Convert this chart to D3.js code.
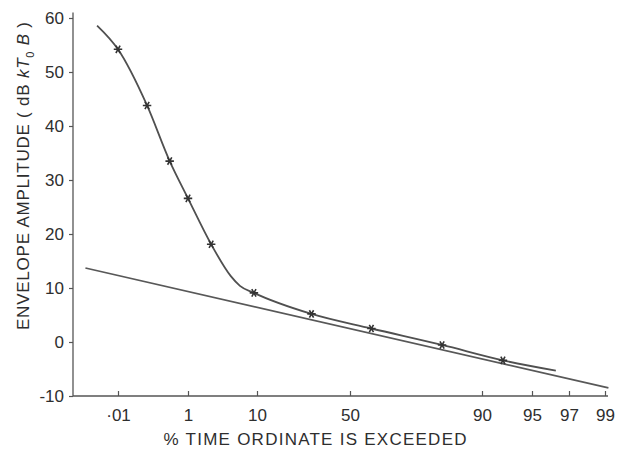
<!DOCTYPE html>
<html>
<head>
<meta charset="utf-8">
<script src="https://cdn.jsdelivr.net/npm/d3@7"></script>
<style>
  body { margin: 0; background: #fff; }
  text { font-family: "Liberation Sans", Arial, sans-serif; fill: #2e2e2e; }
</style>
</head>
<body>
<script>
const width = 619, height = 450

// % time ordinate is exceeded (x) and envelope amplitude in dB (y)
const markerPct = [0.01, 0.1, 0.4, 1, 2.6, 9.3, 32, 60, 83, 92.5]
const markerDb  = [54.2, 43.8, 33.5, 26.6, 18.1, 9.1, 5.2, 2.5, -0.55, -3.4]

// smooth curve drawn through the measurements
const curvePct = [0.0012, 0.01, 0.1, 0.4, 1, 2.6, 5, 6.5, 9.3, 32, 60, 83, 92.5, 96.4]
const curveDb  = [58.6, 54.2, 43.8, 33.5, 26.6, 18.1, 12.2, 10.4, 9.1, 5.2, 2.5, -0.55, -3.4, -5.3]

// straight reference line
const refPct = [0.0003, 99.1]
const refDb  = [13.7, -8.5]

const xTicks = [0.01, 1, 10, 50, 90, 95, 97, 99]
const yTicks = [-10, 0, 10, 20, 30, 40, 50, 60]

// probability paper: tick positions along the printed axis
const xTickPos = [118, 188, 257, 350, 482, 532, 569, 605]

const paper = function(p){ return Math.log10(-Math.log(p / 100)) }

const xPaper = d3.scaleLinear()
    .domain(xTicks.map(paper))
    .range(xTickPos)
const x = function(p){ return xPaper(paper(p)) }

const y = d3.scaleLinear()
    .domain([-10, 60])
    .range([396, 18])

const svg = d3.select("body")
    .append("svg")
      .attr("width", width)
      .attr("height", height)

// axes
const yAxis = svg.append("g")
    .attr("transform", "translate(73,0)")
    .call(d3.axisLeft(y)
        .tickValues(yTicks)
        .tickSize(4)
        .tickPadding(5)
        .tickFormat(function(d){ return String(d) }))
yAxis.select(".domain").remove()
yAxis.selectAll("line").attr("stroke", "#555").attr("stroke-width", 1.2)
yAxis.selectAll("text").style("font-size", "17px").attr("fill", "#2e2e2e")

svg.append("line")
    .attr("x1", 73).attr("x2", 73)
    .attr("y1", y(61)).attr("y2", y(-10))
    .attr("stroke", "#555").attr("stroke-width", 1.3)

const xAxis = svg.append("g")
    .attr("transform", "translate(0," + y(-10) + ")")
    .call(d3.axisBottom(xPaper)
        .tickValues(xTicks.map(paper))
        .tickSize(-5)
        .tickPadding(13)
        .tickFormat(function(d, i){ return xTicks[i] === 0.01 ? "·01" : xTicks[i] }))
xAxis.select(".domain").remove()
xAxis.selectAll("line").attr("stroke", "#555").attr("stroke-width", 1.2)
xAxis.selectAll("text").style("font-size", "17px").attr("fill", "#2e2e2e")

svg.append("line")
    .attr("x1", 73).attr("x2", 608)
    .attr("y1", y(-10)).attr("y2", y(-10))
    .attr("stroke", "#555").attr("stroke-width", 1.3)

// axis titles
svg.append("text")
    .attr("x", 315)
    .attr("y", 445)
    .attr("text-anchor", "middle")
    .attr("textLength", 303)
    .attr("lengthAdjust", "spacing")
    .style("font-size", "17px")
    .text("% TIME ORDINATE IS EXCEEDED")

const yTitle = svg.append("text")
    .attr("transform", "translate(29,176) rotate(-90)")
    .attr("text-anchor", "middle")
    .attr("textLength", 308)
    .attr("lengthAdjust", "spacing")
    .style("font-size", "17px")
yTitle.append("tspan").text("ENVELOPE AMPLITUDE ( dB ")
yTitle.append("tspan").style("font-style", "italic").text("kT")
yTitle.append("tspan").attr("dy", 5).style("font-size", "11px").text("0")
yTitle.append("tspan").attr("dy", -5).style("font-style", "italic").text(" B")
yTitle.append("tspan").text(" )")

// lines
const line = d3.line()
    .x(function(d){ return x(d[0]) })
    .y(function(d){ return y(d[1]) })

svg.append("path")
    .datum(d3.zip(refPct, refDb))
    .attr("d", line)
    .attr("fill", "none")
    .attr("stroke", "#585858")
    .attr("stroke-width", 1.7)

svg.append("path")
    .datum(d3.zip(curvePct, curveDb))
    .attr("d", line.curve(d3.curveMonotoneX))
    .attr("fill", "none")
    .attr("stroke", "#505050")
    .attr("stroke-width", 1.8)

// measured points
svg.selectAll(".marker")
    .data(d3.zip(markerPct, markerDb))
    .enter()
    .append("path")
      .attr("class", "marker")
      .attr("transform", function(d){
          return "translate(" + x(d[0]) + "," + y(d[1]) + ") rotate(30)"
      })
      .attr("d", d3.symbol(d3.symbolAsterisk, 50))
      .attr("fill", "none")
      .attr("stroke", "#333")
      .attr("stroke-width", 1.6)
</script>
</body>
</html>
